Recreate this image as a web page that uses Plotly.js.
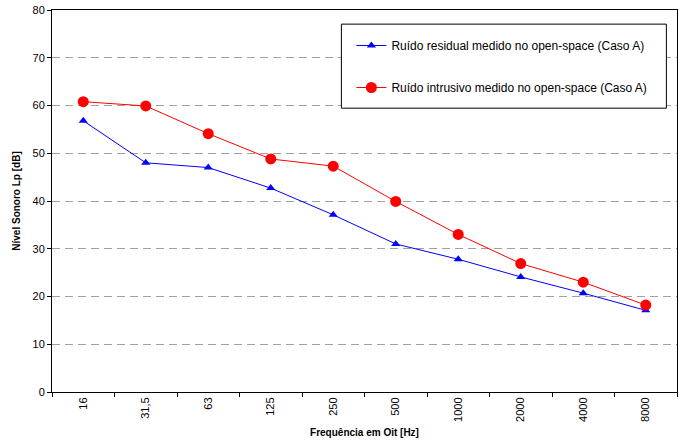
<!DOCTYPE html>
<html>
<head>
<meta charset="utf-8">
<script src="https://cdn.plot.ly/plotly-3.0.1.min.js"></script>
<style>html,body{margin:0;padding:0;background:#fff}#chart{width:684px;height:443px}</style>
</head>
<body>
<div id="chart"></div>
<script>
const categories = ["16", "31,5", "63", "125", "250", "500", "1000", "2000", "4000", "8000"];
const residual = [56.8, 48.0, 47.0, 42.7, 37.1, 31.0, 27.8, 24.1, 20.7, 17.1];
const intrusivo = [60.8, 59.9, 54.1, 48.8, 47.3, 39.9, 33.0, 26.9, 23.0, 18.2];
const seriesNames = ["Ruído residual medido no open-space (Caso A)", "Ruído intrusivo medido no open-space (Caso A)"];
const yTicks = [0, 10, 20, 30, 40, 50, 60, 70, 80];

const font = "Liberation Sans, Arial, sans-serif";
const traces = [
  {x: categories, y: residual, name: seriesNames[0], type: "scatter", mode: "lines+markers",
   line: {color: "#0000ff", width: 1}, marker: {symbol: "triangle-up", size: 8, color: "#0000ff"}, legendgroup: "a"},
  {x: categories, y: intrusivo, name: seriesNames[1], type: "scatter", mode: "lines+markers",
   line: {color: "#ff0000", width: 1}, marker: {symbol: "circle", size: 11, color: "#ff0000"}, legendgroup: "b"}
];
const layout = {
  width: 684, height: 443,
  margin: {l: 52, r: 7, t: 10, b: 51},
  paper_bgcolor: "#fff", plot_bgcolor: "#fff",
  font: {family: font, size: 11, color: "#000"},
  showlegend: true,
  legend: {x: 0.479, y: 0.945, xanchor: "left", yanchor: "top", bgcolor: "rgba(0,0,0,0)",
           borderwidth: 0, tracegroupgap: 23, font: {family: font, size: 12, color: "#000"}},
  shapes: [{type: "rect", xref: "paper", yref: "paper", x0: 0.463, x1: 0.983, y0: 0.743, y1: 0.963,
            line: {color: "#000", width: 1}, fillcolor: "#fff", layer: "above"}],
  xaxis: {
    type: "category", range: [-0.5, 9.5], showgrid: false, zeroline: false,
    showline: true, linecolor: "#000", linewidth: 1, mirror: true,
    ticks: "outside", ticklen: 4, tickcolor: "#000", tickson: "boundaries",
    tickangle: -90, tickfont: {family: font, size: 11},
    title: {text: "Frequência em Oit [Hz]", font: {family: font, size: 10, color: "#000", weight: "bold"}, standoff: 8}
  },
  yaxis: {
    range: [0, 80], tickvals: yTicks, showgrid: true, gridcolor: "#a0a0a0", griddash: "8px,5px", gridwidth: 1,
    zeroline: false, showline: true, linecolor: "#000", linewidth: 1, mirror: true,
    ticks: "outside", ticklen: 4, tickcolor: "#000", tickfont: {family: font, size: 11},
    title: {text: "Nível Sonoro Lp [dB]", font: {family: font, size: 10, color: "#000", weight: "bold"}, standoff: 10}
  }
};
Plotly.newPlot("chart", traces, layout, {displayModeBar: false, staticPlot: true});
</script>
</body>
</html>
